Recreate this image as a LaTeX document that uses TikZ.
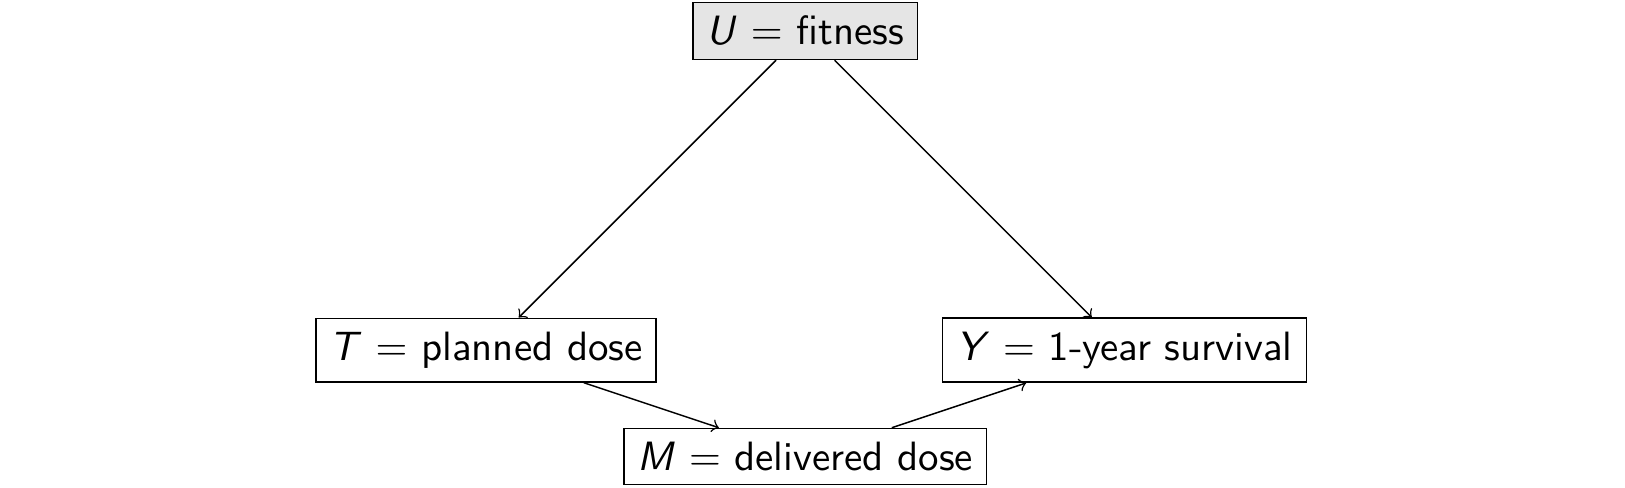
\documentclass[tikz,border=0pt,11pt]{standalone}
\usepackage{amsmath}
\usepackage{tikz}

\begin{document}
\begin{tikzpicture}[
    var/.style={draw, rectangle, font=\sffamily},
    latent/.style={var, fill=black!10}
  ]
                  % Bounding box
                  \useasboundingbox (-7.569,-4.295) rectangle (7.704,0.291);

                  % Variables
                  \node[latent] (U) at (0,0) {\textit{U} $=$ fitness};
                  \node[var] (T) at (-3,-3) {\textit{T} $=$ planned dose};
                  \node[var] (Y) at (3,-3) {\textit{Y} $=$ 1-year survival};
                  \node[var] (M) at (0,-4) {\textit{M} $=$ delivered dose};

                  % Arrows
                  \draw[->] (U) -- (T);
                  \draw[->] (U) -- (Y);
                  \draw[->] (T) -- (M);
                  \draw[->] (M) -- (Y);

              \end{tikzpicture}
\end{document}
